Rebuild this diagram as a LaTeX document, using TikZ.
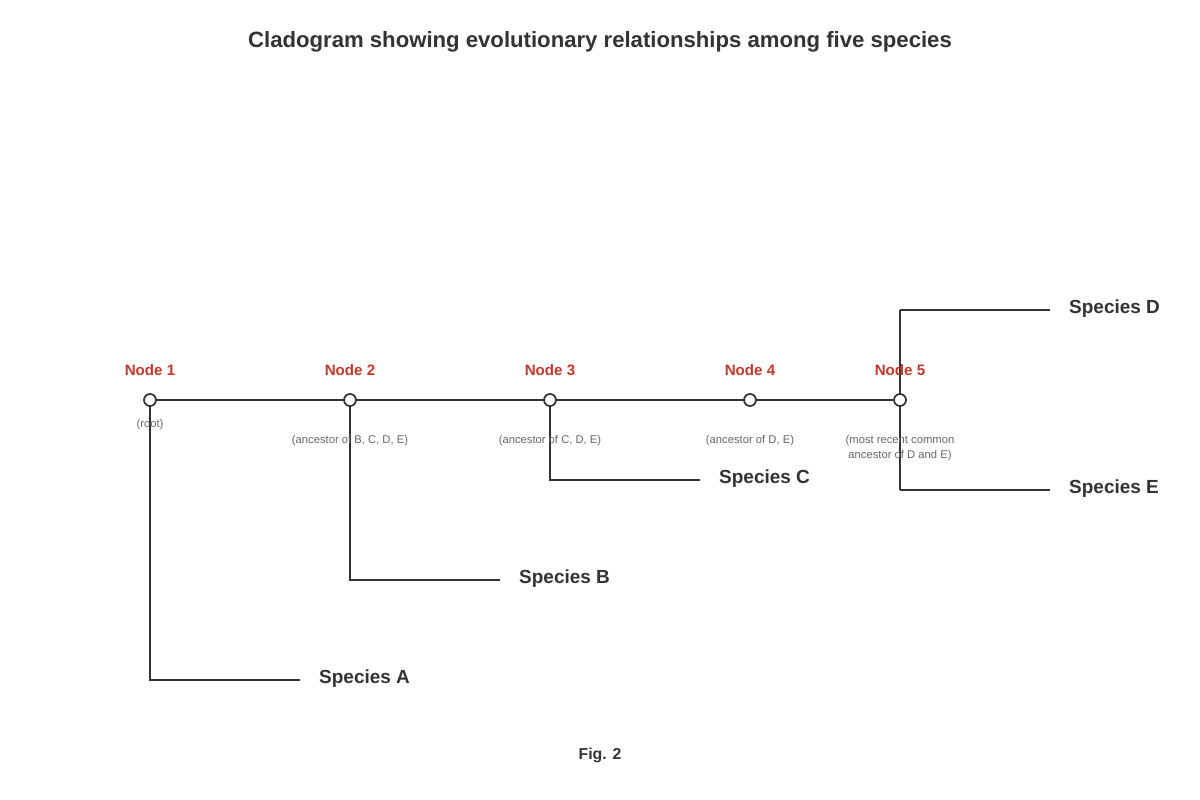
\documentclass[tikz,border=0pt]{standalone}
\usepackage{fontspec}
\setmainfont{Liberation Sans}
\usetikzlibrary{positioning}
\definecolor{branchgray}{HTML}{333333}
\definecolor{nodered}{HTML}{C0392B}
\definecolor{notegray}{HTML}{666666}

\begin{document}
\begin{tikzpicture}[x=0.02cm,y=-0.02cm,
    branch/.style={draw=branchgray, line width=1.4pt},
    anc/.style={circle, draw=branchgray, fill=white, line width=1pt, inner sep=0pt, minimum size=12*0.02cm},
    nlabel/.style={text=nodered, font=\fontsize{8.6}{10}\selectfont\bfseries},
    note/.style={text=notegray, font=\fontsize{6.4}{8.5}\selectfont, align=center},
    species/.style={anchor=west, text=branchgray, font=\fontsize{10.8}{12}\selectfont\bfseries}]

    % Canvas
    \useasboundingbox (0,0) rectangle (1200,800);
    \node[font=\fontsize{12.6}{14}\selectfont\bfseries, text=branchgray] (title) at (600,42) {Cladogram showing evolutionary relationships among five species};

    % Tips of the branches
    \coordinate (a) at (150,680); \coordinate (aend) at (300,680);
    \coordinate (b) at (350,580); \coordinate (bend) at (500,580);
    \coordinate (c) at (550,480); \coordinate (cend) at (700,480);
    \coordinate (d) at (900,310); \coordinate (dend) at (1050,310);
    \coordinate (e) at (900,490); \coordinate (eend) at (1050,490);

    % Branches
    \draw[branch] (150,400) -- (900,400);
    \draw[branch] (150,400) -- (a) -- (aend);
    \draw[branch] (350,400) -- (b) -- (bend);
    \draw[branch] (550,400) -- (c) -- (cend);
    \draw[branch] (d) -- (e);
    \draw[branch] (d) -- (dend);
    \draw[branch] (e) -- (eend);

    % Ancestor nodes
    \node[anc] (n1) at (150,400) {};
    \node[anc] (n2) at (350,400) {};
    \node[anc] (n3) at (550,400) {};
    \node[anc] (n4) at (750,400) {};
    \node[anc] (n5) at (900,400) {};

    \node[nlabel] (l1) at (150,370) {Node 1};
    \node[nlabel] (l2) at (350,370) {Node 2};
    \node[nlabel] (l3) at (550,370) {Node 3};
    \node[nlabel] (l4) at (750,370) {Node 4};
    \node[nlabel] (l5) at (900,370) {Node 5};

    \node[note] (r1) at (150,425) {(root)};
    \node[note] (r2) at (350,441) {(ancestor of B, C, D, E)};
    \node[note] (r3) at (550,441) {(ancestor of C, D, E)};
    \node[note] (r4) at (750,441) {(ancestor of D, E)};
    \node[note] (r5) at (900,448.5) {(most recent common\\ancestor of D and E)};

    % Species
    \node[species] (sa) at (313,679) {Species A};
    \node[species] (sb) at (513,579) {Species B};
    \node[species] (sc) at (713,479) {Species C};
    \node[species] (sd) at (1063,309) {Species D};
    \node[species] (se) at (1063,489) {Species E};

    \node[font=\fontsize{9}{10}\selectfont\bfseries, text=branchgray] (fig) at (600,755) {Fig. 2};
\end{tikzpicture}
\end{document}
